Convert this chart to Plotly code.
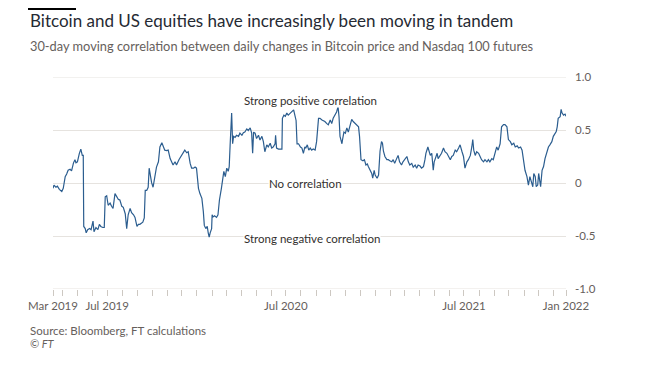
import plotly.graph_objects as go

dates = [
    "2019-03-12", "2019-03-14", "2019-03-18", "2019-03-21", "2019-03-25", "2019-03-30",
    "2019-04-02", "2019-04-06", "2019-04-09", "2019-04-12", "2019-04-16", "2019-04-19",
    "2019-04-23", "2019-04-26", "2019-04-28", "2019-05-01", "2019-05-05", "2019-05-08",
    "2019-05-11", "2019-05-13", "2019-05-14", "2019-05-17", "2019-05-19", "2019-05-22",
    "2019-05-26", "2019-05-29", "2019-06-02", "2019-06-04", "2019-06-08", "2019-06-12",
    "2019-06-15", "2019-06-18", "2019-06-22", "2019-06-25", "2019-06-27", "2019-06-30",
    "2019-07-03", "2019-07-07", "2019-07-10", "2019-07-13", "2019-07-17", "2019-07-20",
    "2019-07-24", "2019-07-27", "2019-07-31", "2019-08-03", "2019-08-07", "2019-08-10",
    "2019-08-13", "2019-08-17", "2019-08-20", "2019-08-24", "2019-08-27", "2019-08-31",
    "2019-09-03", "2019-09-06", "2019-09-12", "2019-09-15", "2019-09-17", "2019-09-20",
    "2019-09-23", "2019-09-25", "2019-09-28", "2019-09-30", "2019-10-03", "2019-10-07",
    "2019-10-10", "2019-10-14", "2019-10-17", "2019-10-21", "2019-10-24", "2019-10-27",
    "2019-10-31", "2019-11-03", "2019-11-07", "2019-11-10", "2019-11-13", "2019-11-17",
    "2019-11-20", "2019-11-25", "2019-11-29", "2019-12-04", "2019-12-07", "2019-12-11",
    "2019-12-14", "2019-12-18", "2019-12-21", "2019-12-25", "2019-12-28", "2019-12-31",
    "2020-01-04", "2020-01-07", "2020-01-11", "2020-01-14", "2020-01-16", "2020-01-19",
    "2020-01-22", "2020-01-24", "2020-01-26", "2020-01-28", "2020-01-31", "2020-02-01",
    "2020-02-03", "2020-02-06", "2020-02-10", "2020-02-13", "2020-02-16", "2020-02-20",
    "2020-02-23", "2020-02-25", "2020-02-28", "2020-03-02", "2020-03-05", "2020-03-07",
    "2020-03-09", "2020-03-12", "2020-03-14", "2020-03-16", "2020-03-19", "2020-03-22",
    "2020-03-26", "2020-03-29", "2020-04-02", "2020-04-05", "2020-04-08", "2020-04-12",
    "2020-04-15", "2020-04-19", "2020-04-22", "2020-04-24", "2020-04-26", "2020-04-29",
    "2020-05-02", "2020-05-06", "2020-05-09", "2020-05-13", "2020-05-16", "2020-05-19",
    "2020-05-23", "2020-05-26", "2020-05-30", "2020-06-02", "2020-06-05", "2020-06-09",
    "2020-06-10", "2020-06-12", "2020-06-16", "2020-06-19", "2020-06-23", "2020-06-24",
    "2020-06-27", "2020-06-30", "2020-07-03", "2020-07-06", "2020-07-10", "2020-07-13",
    "2020-07-17", "2020-07-19", "2020-07-22", "2020-07-24", "2020-07-27", "2020-07-31",
    "2020-08-03", "2020-08-06", "2020-08-09", "2020-08-11", "2020-08-14", "2020-08-17",
    "2020-08-20", "2020-08-23", "2020-08-26", "2020-08-30", "2020-09-01", "2020-09-02",
    "2020-09-06", "2020-09-09", "2020-09-13", "2020-09-16", "2020-09-19", "2020-09-23",
    "2020-09-26", "2020-09-30", "2020-10-03", "2020-10-06", "2020-10-10", "2020-10-13",
    "2020-10-16", "2020-10-18", "2020-10-20", "2020-10-22", "2020-10-24", "2020-10-25",
    "2020-10-28", "2020-10-31", "2020-11-03", "2020-11-06", "2020-11-10", "2020-11-13",
    "2020-11-16", "2020-11-20", "2020-11-23", "2020-11-27", "2020-11-29", "2020-11-30",
    "2020-12-02", "2020-12-06", "2020-12-09", "2020-12-12", "2020-12-15", "2020-12-17",
    "2020-12-21", "2020-12-24", "2020-12-26", "2020-12-29", "2020-12-31", "2021-01-02",
    "2021-01-04", "2021-01-07", "2021-01-10", "2021-01-13", "2021-01-15", "2021-01-17",
    "2021-01-20", "2021-01-24", "2021-01-27", "2021-01-30", "2021-02-03", "2021-02-06",
    "2021-02-09", "2021-02-13", "2021-02-16", "2021-02-19", "2021-02-23", "2021-02-26",
    "2021-03-02", "2021-03-06", "2021-03-09", "2021-03-12", "2021-03-16", "2021-03-19",
    "2021-03-23", "2021-03-26", "2021-03-29", "2021-04-02", "2021-04-05", "2021-04-09",
    "2021-04-12", "2021-04-14", "2021-04-18", "2021-04-20", "2021-04-23", "2021-04-26",
    "2021-04-29", "2021-05-01", "2021-05-04", "2021-05-07", "2021-05-09", "2021-05-13",
    "2021-05-16", "2021-05-20", "2021-05-23", "2021-05-27", "2021-05-30", "2021-06-03",
    "2021-06-06", "2021-06-09", "2021-06-13", "2021-06-16", "2021-06-20", "2021-06-23",
    "2021-06-27", "2021-06-30", "2021-07-03", "2021-07-07", "2021-07-10", "2021-07-14",
    "2021-07-17", "2021-07-19", "2021-07-21", "2021-07-24", "2021-07-27", "2021-07-31",
    "2021-08-03", "2021-08-06", "2021-08-10", "2021-08-13", "2021-08-17", "2021-08-20",
    "2021-08-23", "2021-08-27", "2021-08-30", "2021-09-03", "2021-09-06", "2021-09-09",
    "2021-09-13", "2021-09-16", "2021-09-20", "2021-09-23", "2021-09-27", "2021-09-30",
    "2021-10-04", "2021-10-07", "2021-10-11", "2021-10-14", "2021-10-18", "2021-10-21",
    "2021-10-25", "2021-10-28", "2021-10-31", "2021-11-03", "2021-11-07", "2021-11-10",
    "2021-11-13", "2021-11-17", "2021-11-19", "2021-11-21", "2021-11-24", "2021-11-26",
    "2021-11-29", "2021-12-01", "2021-12-03", "2021-12-05", "2021-12-08", "2021-12-11",
    "2021-12-14", "2021-12-18", "2021-12-21", "2021-12-24", "2021-12-28", "2021-12-31",
    "2022-01-04", "2022-01-06", "2022-01-08", "2022-01-10", "2022-01-14", "2022-01-16",
    "2022-01-18", "2022-01-21", "2022-01-24", "2022-01-26",
]

correlation = [
    -0.05, -0.02, -0.04, -0.03, -0.06, -0.08,
    -0.05, 0.06, 0.085, 0.12, 0.13, 0.115,
    0.19, 0.22, 0.19, 0.20, 0.28, 0.32,
    0.26, 0.26, -0.41, -0.43, -0.47, -0.44,
    -0.43, -0.44, -0.36, -0.46, -0.42, -0.44,
    -0.39, -0.41, -0.42, -0.42, -0.13, -0.12,
    -0.21, -0.19, -0.22, -0.24, -0.10, -0.13,
    -0.155, -0.16, -0.22, -0.23, -0.29, -0.43,
    -0.30, -0.24, -0.28, -0.30, -0.325, -0.41,
    -0.39, -0.39, -0.37, -0.33, -0.07, -0.07,
    -0.04, 0.14, 0.045, 0.003, -0.04, 0.075,
    0.15, 0.20, 0.34, 0.38, 0.35, 0.31,
    0.305, 0.31, 0.23, 0.20, 0.17, 0.20,
    0.17, 0.22, 0.25, 0.28, 0.31, 0.285,
    0.295, 0.185, 0.14, 0.14, 0.15, 0.14,
    -0.05, -0.10, -0.145, -0.27, -0.40, -0.43,
    -0.41, -0.47, -0.51, -0.47, -0.43, -0.30,
    -0.32, -0.31, -0.325, -0.30, -0.16, -0.05,
    0.06, 0.11, 0.06, 0.14, 0.11, 0.155,
    0.37, 0.66, 0.37, 0.44, 0.43, 0.45,
    0.44, 0.47, 0.45, 0.475, 0.48, 0.51,
    0.495, 0.52, 0.47, 0.28, 0.48, 0.47,
    0.42, 0.45, 0.405, 0.44, 0.39, 0.295,
    0.36, 0.34, 0.375, 0.33, 0.34, 0.37,
    0.45, 0.33, 0.32, 0.32, 0.32, 0.61,
    0.64, 0.63, 0.66, 0.64, 0.66, 0.67,
    0.69, 0.65, 0.59, 0.37, 0.37, 0.34,
    0.33, 0.28, 0.34, 0.33, 0.36, 0.31,
    0.33, 0.31, 0.32, 0.31, 0.37, 0.39,
    0.61, 0.61, 0.595, 0.59, 0.58, 0.56,
    0.55, 0.595, 0.56, 0.61, 0.64, 0.67,
    0.72, 0.625, 0.44, 0.39, 0.37, 0.405,
    0.48, 0.47, 0.52, 0.48, 0.56, 0.60,
    0.58, 0.56, 0.55, 0.53, 0.44, 0.34,
    0.22, 0.21, 0.22, 0.17, 0.18, 0.155,
    0.12, 0.09, 0.045, 0.12, 0.075, 0.05,
    0.045, 0.075, 0.30, 0.39, 0.375, 0.30,
    0.25, 0.22, 0.22, 0.21, 0.20, 0.22,
    0.185, 0.23, 0.26, 0.20, 0.17, 0.20,
    0.23, 0.25, 0.20, 0.17, 0.185, 0.15,
    0.17, 0.14, 0.17, 0.16, 0.14, 0.155,
    0.22, 0.28, 0.34, 0.31, 0.26, 0.28,
    0.12, 0.20, 0.25, 0.28, 0.23, 0.26,
    0.28, 0.33, 0.295, 0.28, 0.25, 0.22,
    0.25, 0.26, 0.31, 0.295, 0.33, 0.36,
    0.295, 0.25, 0.14, 0.20, 0.22, 0.26,
    0.34, 0.41, 0.31, 0.26, 0.295, 0.28,
    0.25, 0.22, 0.20, 0.22, 0.20, 0.22,
    0.20, 0.23, 0.22, 0.30, 0.34, 0.31,
    0.37, 0.53, 0.55, 0.55, 0.53, 0.41,
    0.39, 0.36, 0.375, 0.34, 0.35, 0.33,
    0.34, 0.31, 0.23, 0.12, 0.06, -0.02,
    0.06, 0.0, -0.035, 0.09, 0.06, -0.035,
    -0.02, 0.09, 0.045, -0.035, 0.12, 0.155,
    0.23, 0.295, 0.34, 0.36, 0.39, 0.44,
    0.47, 0.485, 0.53, 0.61, 0.625, 0.695,
    0.66, 0.64, 0.65, 0.63,
]

x_range = ["2019-03-12", "2022-01-26"]
x_tick_vals = ["2019-03-12", "2019-07-01", "2020-07-01", "2021-07-01", "2022-01-26"]
x_tick_text = ["Mar 2019", "Jul 2019", "Jul 2020", "Jul 2021", "Jan 2022"]
month_tick_start = "2019-04-01"
y_range = [-1.0, 1.0]
y_tick_vals = [-1.0, -0.5, 0, 0.5, 1.0]
y_tick_text = ["-1.0", "-0.5", "0", "0.5", "1.0"]

labels = ["Strong positive correlation", "No correlation", "Strong negative correlation"]
label_x = ["2020-08-20", "2020-08-10", "2020-08-24"]
label_y = [0.78, 0.0, -0.52]

title = "Bitcoin and US equities have increasingly been moving in tandem"
subtitle = "30-day moving correlation between daily changes in Bitcoin price and Nasdaq 100 futures"
source = "Source: Bloomberg, FT calculations"
credit = "<i>© FT</i>"

FONT = "Lato"
GRID = "#e6e3df"
TICK = "#cdc8c2"
GREY = "#66605c"
DARK = "#33302e"

# page body has an 8px default margin; figure is sized so the plot lands where the reference has it
W, H = 644, 362
L, R, T, B = 45, 86, 69, 81
PW = W - L - R
PH = H - T - B


def px_x(px):
    return (px - 8 - L) / PW


def px_y(py):
    return (H - B - (py - 8)) / PH


fig = go.Figure()
# invisible copy on the overlay axis so its monthly tick marks get drawn
fig.add_trace(go.Scatter(
    x=dates, y=correlation, mode="lines", xaxis="x2",
    line=dict(color="rgba(0,0,0,0)", width=0),
    hoverinfo="skip", showlegend=False,
))
fig.add_trace(go.Scatter(
    x=dates, y=correlation, mode="lines",
    line=dict(color="#2b5d8f", width=1.2),
    hoverinfo="skip", showlegend=False,
))

annotations = []
for t, ax, ay in zip(labels, label_x, label_y):
    annotations.append(dict(
        x=ax, y=ay, xref="x", yref="y", text=t, showarrow=False,
        font=dict(family=FONT, size=11.5, color=DARK),
        bgcolor="white", borderpad=0,
    ))

annotations += [
    dict(x=px_x(28), y=px_y(20), xref="paper", yref="paper", text=title,
         showarrow=False, xanchor="left", yanchor="middle",
         font=dict(family=FONT, size=17, color="#262a33")),
    dict(x=px_x(28), y=px_y(46), xref="paper", yref="paper", text=subtitle,
         showarrow=False, xanchor="left", yanchor="middle",
         font=dict(family=FONT, size=12.8, color=GREY)),
    dict(x=px_x(28), y=px_y(330), xref="paper", yref="paper", text=source,
         showarrow=False, xanchor="left", yanchor="middle",
         font=dict(family=FONT, size=11.5, color=GREY)),
    dict(x=px_x(28), y=px_y(343), xref="paper", yref="paper", text=credit,
         showarrow=False, xanchor="left", yanchor="middle",
         font=dict(family=FONT, size=11, color=GREY)),
]

# horizontal rules at the range edges (gridlines at the very edge are not drawn by plotly)
shapes = [dict(type="rect", xref="paper", yref="paper",
               x0=px_x(28), x1=px_x(76), y0=px_y(10), y1=px_y(7),
               fillcolor="#000000", line=dict(width=0))]
for v in (y_range[0], y_range[1]):
    shapes.append(dict(type="line", xref="paper", yref="y", x0=0, x1=1, y0=v, y1=v,
                       line=dict(color=GRID, width=1), layer="below"))

fig.update_layout(
    width=W, height=H,
    margin=dict(l=L, r=R, t=T, b=B),
    paper_bgcolor="white", plot_bgcolor="white",
    showlegend=False,
    annotations=annotations,
    shapes=shapes,
    xaxis=dict(
        type="date", range=x_range,
        tickmode="array", tickvals=x_tick_vals, ticktext=x_tick_text,
        ticks="outside", ticklen=6, tickcolor=TICK, tickwidth=1,
        showgrid=False, zeroline=False, showline=False,
        tickfont=dict(family=FONT, size=11.5, color=GREY),
    ),
    xaxis2=dict(
        type="date", range=x_range, overlaying="x", anchor="y", side="bottom",
        tickmode="linear", tick0=month_tick_start, dtick="M1",
        ticks="outside", ticklen=6, tickcolor=TICK, tickwidth=1,
        showticklabels=False, showgrid=False, zeroline=False, showline=False,
    ),
    yaxis=dict(
        range=y_range, side="right",
        tickmode="array", tickvals=y_tick_vals, ticktext=y_tick_text,
        showgrid=True, gridcolor=GRID, gridwidth=1,
        zeroline=False, showline=False, ticks="",
        ticklabelstandoff=8,
        tickfont=dict(family=FONT, size=11.5, color=GREY),
    ),
)

fig.write_html("out.html")
